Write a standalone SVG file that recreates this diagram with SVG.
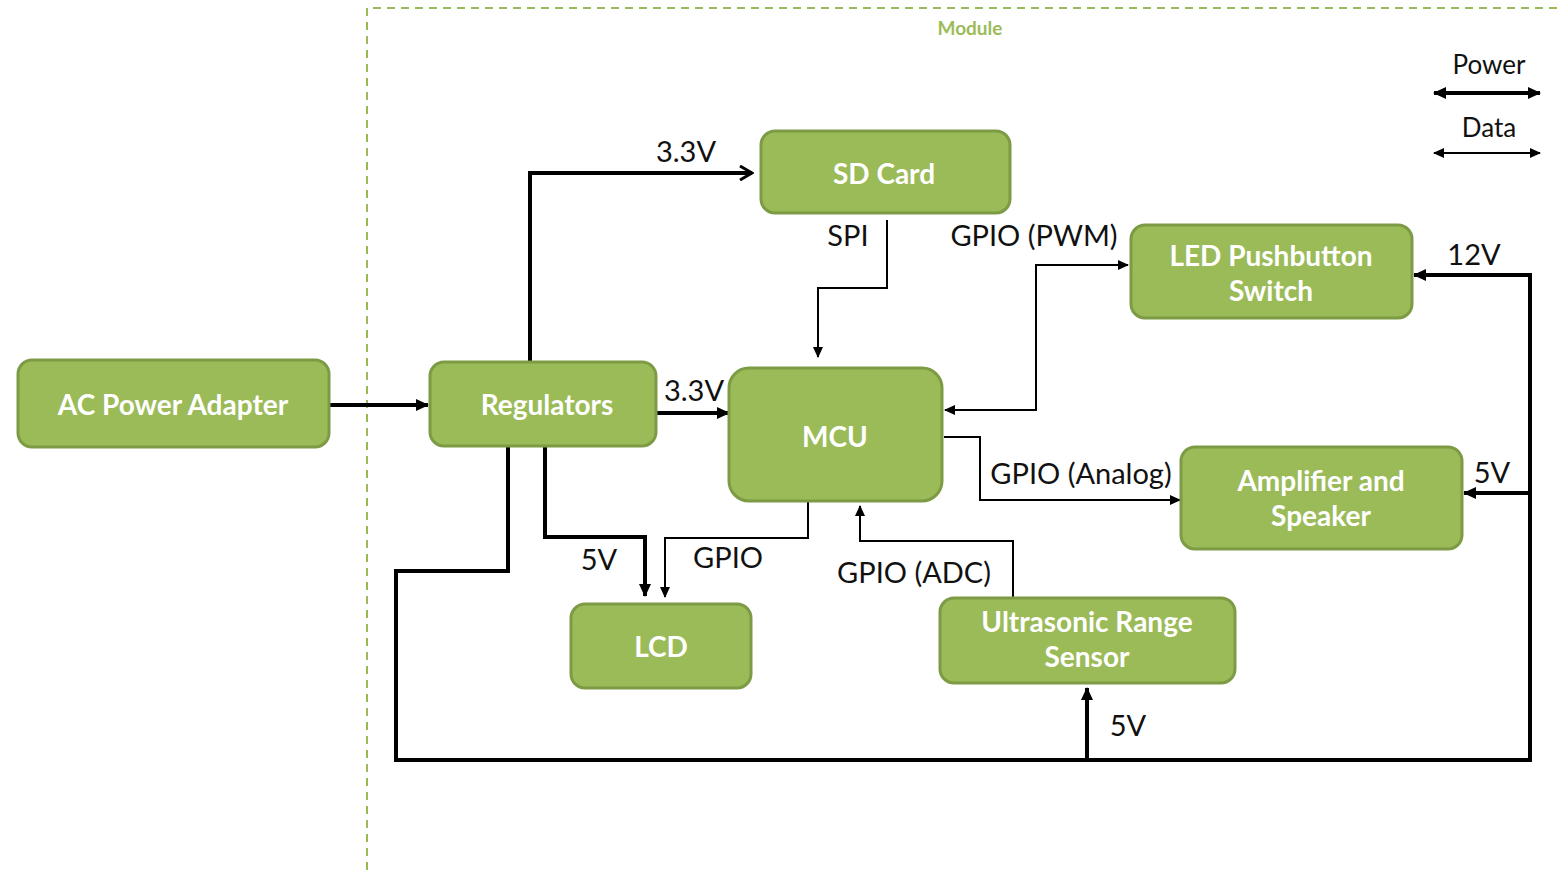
<svg xmlns="http://www.w3.org/2000/svg" width="1557" height="870" viewBox="0 0 1557 870">
<style>
.box{fill:#9bbb59;stroke:#7d9b45;stroke-width:3}
.bt{font-family:Lato,"Liberation Sans",sans-serif;font-weight:bold;font-size:28px;fill:#ffffff;text-anchor:middle}
.lb{font-family:Lato,"Liberation Sans",sans-serif;font-size:29px;fill:#111;text-anchor:middle}
.pw{fill:none;stroke:#000;stroke-width:4}
.dt{fill:none;stroke:#000;stroke-width:2}
</style>
<defs>
<marker id="ap" markerUnits="userSpaceOnUse" markerWidth="14" markerHeight="12" refX="12" refY="6" orient="auto-start-reverse"><path d="M0,0 L13,6 L0,12 Z" fill="#000"/></marker>
<marker id="ad" markerUnits="userSpaceOnUse" markerWidth="12" markerHeight="10" refX="10" refY="5" orient="auto-start-reverse"><path d="M0,0 L11,5 L0,10 Z" fill="#000"/></marker>
<marker id="av" markerUnits="userSpaceOnUse" markerWidth="16" markerHeight="16" refX="14" refY="8" orient="auto"><path d="M2,1 L14,8 L2,15" fill="none" stroke="#000" stroke-width="3"/></marker>
</defs>
<rect width="1557" height="870" fill="#ffffff"/>
<g id="module">
<path d="M367,870 V8 H1557" fill="none" stroke="#9bbb59" stroke-width="2" stroke-dasharray="8,6"/>
<text x="970" y="35" style="font-family:Lato,'Liberation Sans',sans-serif;font-weight:bold;font-size:19px;fill:#9bbb59;text-anchor:middle">Module</text>
</g>
<g id="legend">
<text x="1489" y="74" class="lb" style="font-size:26px">Power</text>
<line x1="1434" y1="93" x2="1540" y2="93" class="pw" marker-start="url(#ap)" marker-end="url(#ap)"/>
<text x="1489" y="137" class="lb" style="font-size:26px">Data</text>
<line x1="1434" y1="153" x2="1540" y2="153" class="dt" marker-start="url(#ad)" marker-end="url(#ad)"/>
</g>
<g id="connectors">
<line x1="329" y1="405" x2="428" y2="405" class="pw" marker-end="url(#ap)"/>
<path d="M530,362 V173 H752" class="pw" marker-end="url(#av)"/>
<text x="686" y="162" class="lb">3.3V</text>
<line x1="656" y1="413" x2="729" y2="413" class="pw" marker-end="url(#ap)"/>
<text x="694" y="401" class="lb">3.3V</text>
<path d="M545,446 V537 H645 V596" class="pw" marker-end="url(#ap)"/>
<text x="599" y="570" class="lb">5V</text>
<path d="M808,501 V538 H665 V597" class="dt" marker-end="url(#ad)"/>
<text x="728" y="568" class="lb">GPIO</text>
<path d="M887,220 V288 H818 V357" class="dt" marker-end="url(#ad)"/>
<text x="848" y="246" class="lb">SPI</text>
<path d="M945,410 H1036 V265 H1128" class="dt" marker-start="url(#ad)" marker-end="url(#ad)"/>
<text x="1034" y="246" class="lb">GPIO (PWM)</text>
<path d="M944,437 H980 V500 H1180" class="dt" marker-end="url(#ad)"/>
<text x="1081" y="484" class="lb">GPIO (Analog)</text>
<path d="M1013,598 V541 H860 V506" class="dt" marker-end="url(#ad)"/>
<text x="914" y="583" class="lb">GPIO (ADC)</text>
<path d="M508,446 V571 H396 V760 H1530 V275 H1414" class="pw" marker-end="url(#ap)"/>
<text x="1474" y="265" class="lb">12V</text>
<path d="M1530,493 H1464" class="pw" marker-end="url(#ap)"/>
<text x="1492" y="483" class="lb">5V</text>
<path d="M1087,760 V688" class="pw" marker-end="url(#ap)"/>
<text x="1128" y="736" class="lb">5V</text>
</g>
<g id="ac"><rect x="18" y="360" width="311" height="87" rx="14" class="box"/><text x="173" y="415" class="bt">AC Power Adapter</text></g>
<g id="reg"><rect x="430" y="362" width="226" height="84" rx="14" class="box"/><text x="547" y="415" class="bt">Regulators</text></g>
<g id="sd"><rect x="761" y="131" width="249" height="82" rx="14" class="box"/><text x="884" y="184" class="bt">SD Card</text></g>
<g id="mcu"><rect x="729" y="368" width="213" height="133" rx="20" class="box"/><text x="835" y="447" class="bt">MCU</text></g>
<g id="led"><rect x="1131" y="225" width="281" height="93" rx="14" class="box"/><text x="1271" y="266" class="bt">LED Pushbutton</text><text x="1271" y="301" class="bt">Switch</text></g>
<g id="amp"><rect x="1181" y="447" width="281" height="102" rx="14" class="box"/><text x="1321" y="491" class="bt">Amplifier and</text><text x="1321" y="526" class="bt">Speaker</text></g>
<g id="lcd"><rect x="571" y="604" width="180" height="84" rx="14" class="box"/><text x="661" y="657" class="bt">LCD</text></g>
<g id="us"><rect x="940" y="598" width="295" height="85" rx="14" class="box"/><text x="1087" y="632" class="bt">Ultrasonic Range</text><text x="1087" y="667" class="bt">Sensor</text></g>
</svg>
